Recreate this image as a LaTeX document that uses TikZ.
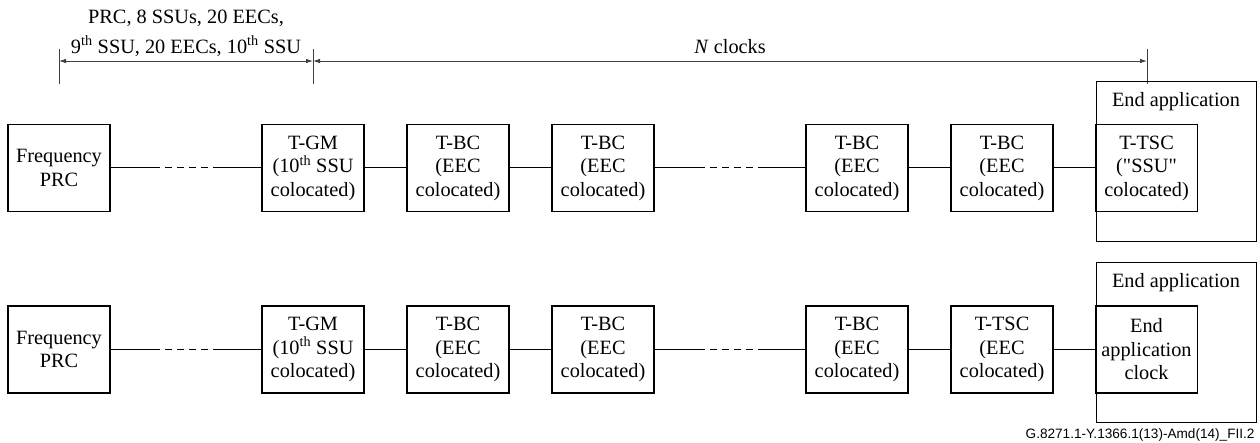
\documentclass[tikz,border=0pt]{standalone}
\usepackage{fontspec}
\setmainfont{Liberation Serif}[Ligatures=TeXOff]
\setsansfont{Liberation Sans}
\usetikzlibrary{arrows.meta}
\begin{document}
\begin{tikzpicture}[x=1pt,y=-1pt,
  txt/.style={font=\fontsize{20.3}{23.5}\selectfont},
  box/.style={txt, draw, line width=1.1pt, minimum width=102pt, minimum height=87pt,
              inner sep=0pt, align=center},
  outer/.style={draw, line width=1.1pt, minimum width=160pt, minimum height=160pt,
                inner sep=0pt, anchor=north west},
  link/.style={line width=1pt},
  dashlink/.style={line width=1pt, dash pattern=on 7pt off 5pt},
  tick/.style={line width=0.8pt, black!75},
  dim/.style={line width=0.8pt, black!75,
              {Latex[length=7pt,width=4.5pt]}-{Latex[length=7pt,width=4.5pt]}}]
\useasboundingbox (0,0) rectangle (1260,443);

% ---- dimension lines ----
\coordinate (d1) at (59,61);
\coordinate (d2) at (313,61);
\coordinate (d3) at (1147,61);
\foreach \c in {d1,d2,d3} {
  \draw[tick] ([yshift=-23pt]\c) -- ([yshift=12pt]\c);
}
\draw[dim] (d1) -- (d2);
\draw[dim] (d2) -- (d3);
\node[txt, align=center, font=\fontsize{20.3}{30}\selectfont] (span1) at (186,33)
  {PRC, 8 SSUs, 20 EECs,\\9\textsuperscript{th} SSU, 20 EECs, 10\textsuperscript{th} SSU};
\node[txt] (span2) at (730,47) {\textit{N} clocks};

% ---- first chain ----
\node[outer] (appA) at (1096,81) {};
\node[txt] (appAlbl) at (1176,102) {End application};
\node[box] (prcA) at (59,168)  {Frequency\\PRC};
\node[box] (gmA)  at (313,168) {T-GM\\(10\textsuperscript{th} SSU\\colocated)};
\node[box] (bcA1) at (458,168) {T-BC\\(EEC\\colocated)};
\node[box] (bcA2) at (603,168) {T-BC\\(EEC\\colocated)};
\node[box] (bcA3) at (857,168) {T-BC\\(EEC\\colocated)};
\node[box] (bcA4) at (1002,168) {T-BC\\(EEC\\colocated)};
\node[box] (tscA) at (1146.5,168) {T-TSC\\("SSU"\\colocated)};

\coordinate (gapA1) at (153,168);
\coordinate (gapA2) at (220,168);
\coordinate (gapA3) at (698,168);
\coordinate (gapA4) at (764,168);
\draw[link] (prcA.east) -- (gapA1);
\draw[dashlink] (gapA1) -- (gapA2);
\draw[link] (gapA2) -- (gmA.west);
\draw[link] (gmA) -- (bcA1);
\draw[link] (bcA1) -- (bcA2);
\draw[link] (bcA2.east) -- (gapA3);
\draw[dashlink] (gapA3) -- (gapA4);
\draw[link] (gapA4) -- (bcA3.west);
\draw[link] (bcA3) -- (bcA4);
\draw[link] (bcA4) -- (tscA);

% ---- second chain ----
\node[outer] (appB) at (1096,262) {};
\node[txt] (appBlbl) at (1176,283) {End application};
\node[box] (prcB) at (59,349.5)  {Frequency\\PRC};
\node[box] (gmB)  at (313,349.5) {T-GM\\(10\textsuperscript{th} SSU\\colocated)};
\node[box] (bcB1) at (458,349.5) {T-BC\\(EEC\\colocated)};
\node[box] (bcB2) at (603,349.5) {T-BC\\(EEC\\colocated)};
\node[box] (bcB3) at (857,349.5) {T-BC\\(EEC\\colocated)};
\node[box] (tscB) at (1002,349.5) {T-TSC\\(EEC\\colocated)};
\node[box] (clkB) at (1146.5,349.5) {End\\application\\clock};

\coordinate (gapB1) at (153,349.5);
\coordinate (gapB2) at (220,349.5);
\coordinate (gapB3) at (698,349.5);
\coordinate (gapB4) at (764,349.5);
\draw[link] (prcB.east) -- (gapB1);
\draw[dashlink] (gapB1) -- (gapB2);
\draw[link] (gapB2) -- (gmB.west);
\draw[link] (gmB) -- (bcB1);
\draw[link] (bcB1) -- (bcB2);
\draw[link] (bcB2.east) -- (gapB3);
\draw[dashlink] (gapB3) -- (gapB4);
\draw[link] (gapB4) -- (bcB3.west);
\draw[link] (bcB3) -- (tscB);
\draw[link] (tscB) -- (clkB);

% ---- figure reference ----
\node[anchor=base east, font=\sffamily\fontsize{13.6}{16}\selectfont] (figref)
  at (1258,438) {G.8271.1-Y.1366.1(13)-Amd(14)\_FII.2};
\end{tikzpicture}
\end{document}
